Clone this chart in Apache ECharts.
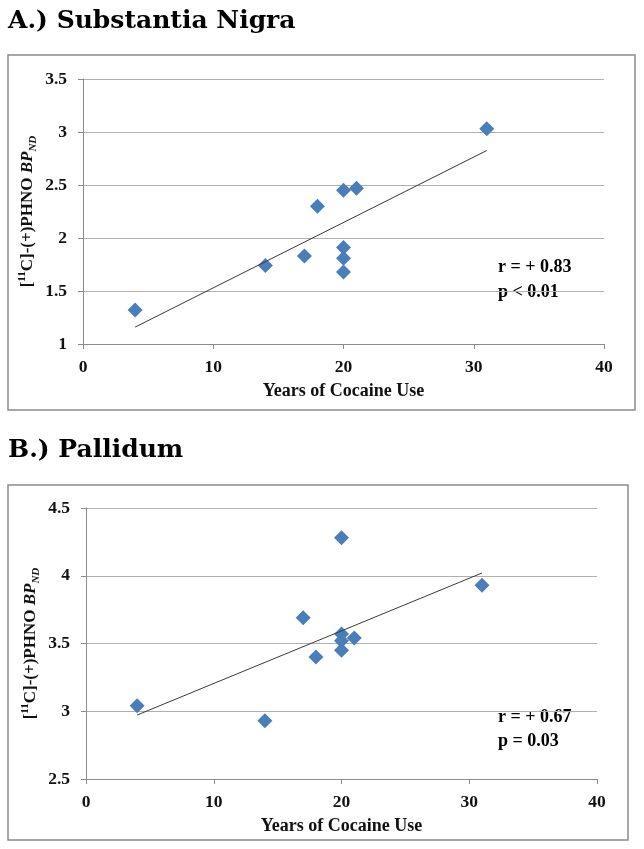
<!DOCTYPE html>
<html><head><meta charset="utf-8">
<script src="https://cdn.jsdelivr.net/npm/echarts/dist/echarts.min.js"></script>
<style>html,body{margin:0;padding:0;background:#fff}#c{width:644px;height:849px}</style>
</head><body><div id="c"></div>
<script>
// ---- data ----
const yearsA = [4, 14, 17, 18, 20, 21, 20, 20, 20, 31];
const bpA    = [1.32, 1.74, 1.83, 2.30, 2.45, 2.47, 1.91, 1.81, 1.68, 3.03];
const yearsB = [4, 14, 17, 18, 20, 20, 20, 20, 21, 31];
const bpB    = [3.04, 2.93, 3.69, 3.40, 4.28, 3.57, 3.52, 3.45, 3.54, 3.93];
const xRange  = [0, 40, 10];
const yRangeA = [1, 3.5, 0.5];
const yRangeB = [2.5, 4.5, 0.5];
const panelTitles = ['A.) Substantia Nigra', 'B.) Pallidum'];
const statsA = ['r = + 0.83', 'p < 0.01'];
const statsB = ['r = + 0.67', 'p = 0.03'];
const xAxisName = 'Years of Cocaine Use';
const yAxisName = '{b|[}{sup|11}{b|C]-(+)PHNO }{i|BP}{sub|ND}';

// least-squares trend line over the data's x range
function trend(xs, ys) {
  const n = xs.length;
  const mx = xs.reduce((a, b) => a + b, 0) / n;
  const my = ys.reduce((a, b) => a + b, 0) / n;
  let sxy = 0, sxx = 0;
  for (let i = 0; i < n; i++) { sxy += (xs[i] - mx) * (ys[i] - my); sxx += (xs[i] - mx) ** 2; }
  const b = sxy / sxx, a = my - b * mx;
  const x0 = Math.min(...xs), x1 = Math.max(...xs);
  return [[x0, a + b * x0], [x1, a + b * x1]];
}
const zip = (xs, ys) => xs.map((x, i) => [x, ys[i]]);

const SERIF = '"Liberation Serif", "Times New Roman", serif';
const AXIS_C = '#8c8c8c';
const GRID_C = '#b0b0b0';
const BLUE = '#4a7ebb';

function xAxisCfg(gi) {
  return {
    gridIndex: gi, type: 'value', min: xRange[0], max: xRange[1], interval: xRange[2],
    name: xAxisName, nameLocation: 'middle', nameGap: 38, nameMoveOverlap: false,
    nameTextStyle: { fontFamily: SERIF, fontWeight: 'bold', fontSize: 18, color: '#111' },
    axisLine: { show: true, lineStyle: { color: AXIS_C, width: 1 } },
    axisTick: { show: true, inside: false, length: 5, lineStyle: { color: AXIS_C } },
    axisLabel: { fontFamily: SERIF, fontWeight: 'bold', fontSize: 17.5, color: '#111', margin: 14 },
    splitLine: { show: false }
  };
}
function yAxisCfg(gi, r) {
  return {
    gridIndex: gi, type: 'value', min: r[0], max: r[1], interval: r[2],
    name: yAxisName, nameLocation: 'middle', nameRotate: 90, nameGap: 44, nameMoveOverlap: false,
    nameTextStyle: {
      color: '#111',
      rich: {
        b: { fontFamily: SERIF, fontWeight: 'bold', fontSize: 17, lineHeight: 22, color: '#111' },
        i: { fontFamily: SERIF, fontWeight: 'bold', fontStyle: 'italic', fontSize: 17, lineHeight: 22, color: '#111' },
        sup: { fontFamily: SERIF, fontWeight: 'bold', fontSize: 11, verticalAlign: 'top', color: '#111' },
        sub: { fontFamily: SERIF, fontWeight: 'bold', fontStyle: 'italic', fontSize: 11, verticalAlign: 'bottom', color: '#111' }
      }
    },
    axisLine: { show: true, onZero: false, lineStyle: { color: AXIS_C, width: 1 } },
    axisTick: { show: true, inside: false, length: 5, lineStyle: { color: AXIS_C } },
    axisLabel: { fontFamily: SERIF, fontWeight: 'bold', fontSize: 17.5, color: '#111', margin: 16 },
    splitLine: { show: true, lineStyle: { color: GRID_C, width: 1.2 } }
  };
}
function textEl(t, x, y, font) {
  return { type: 'text', x: x, y: y, silent: true,
    style: { text: t, font: font, fill: '#000', verticalAlign: 'middle', align: 'left' } };
}
const TITLE_FONT = 'bold 25px "DejaVu Serif", serif';
const STAT_FONT = 'bold 18px ' + SERIF;

const option = {
  animation: false,
  backgroundColor: '#fff',
  grid: [
    { left: 83, top: 79, width: 521, height: 265, outerBoundsMode: 'none', containLabel: false },
    { left: 86, top: 508, width: 511, height: 271, outerBoundsMode: 'none', containLabel: false }
  ],
  xAxis: [xAxisCfg(0), xAxisCfg(1)],
  yAxis: [yAxisCfg(0, yRangeA), yAxisCfg(1, yRangeB)],
  series: [
    { type: 'scatter', xAxisIndex: 0, yAxisIndex: 0, data: zip(yearsA, bpA),
      symbol: 'diamond', symbolSize: 15, itemStyle: { color: BLUE, opacity: 1 }, z: 2 },
    { type: 'line', xAxisIndex: 0, yAxisIndex: 0, data: trend(yearsA, bpA),
      symbol: 'none', lineStyle: { color: '#3a3a3a', width: 1 }, z: 3, silent: true },
    { type: 'scatter', xAxisIndex: 1, yAxisIndex: 1, data: zip(yearsB, bpB),
      symbol: 'diamond', symbolSize: 15, itemStyle: { color: BLUE, opacity: 1 }, z: 2 },
    { type: 'line', xAxisIndex: 1, yAxisIndex: 1, data: trend(yearsB, bpB),
      symbol: 'none', lineStyle: { color: '#3a3a3a', width: 1 }, z: 3, silent: true }
  ],
  graphic: [
    { type: 'rect', shape: { x: 8, y: 55, width: 627, height: 355 }, silent: true,
      style: { fill: 'none', stroke: '#8a8a8a', lineWidth: 1.5 } },
    { type: 'rect', shape: { x: 8, y: 485, width: 620, height: 355 }, silent: true,
      style: { fill: 'none', stroke: '#8a8a8a', lineWidth: 1.5 } },
    textEl(panelTitles[0], 8, 21, TITLE_FONT),
    textEl(panelTitles[1], 8, 450, TITLE_FONT),
    textEl(statsA[0], 498, 267, STAT_FONT),
    textEl(statsA[1], 498, 292, STAT_FONT),
    textEl(statsB[0], 498, 717, STAT_FONT),
    textEl(statsB[1], 498, 741, STAT_FONT)
  ]
};
const chart = echarts.init(document.getElementById('c'), null, { renderer: 'canvas' });
chart.setOption(option);
</script>
</body></html>
